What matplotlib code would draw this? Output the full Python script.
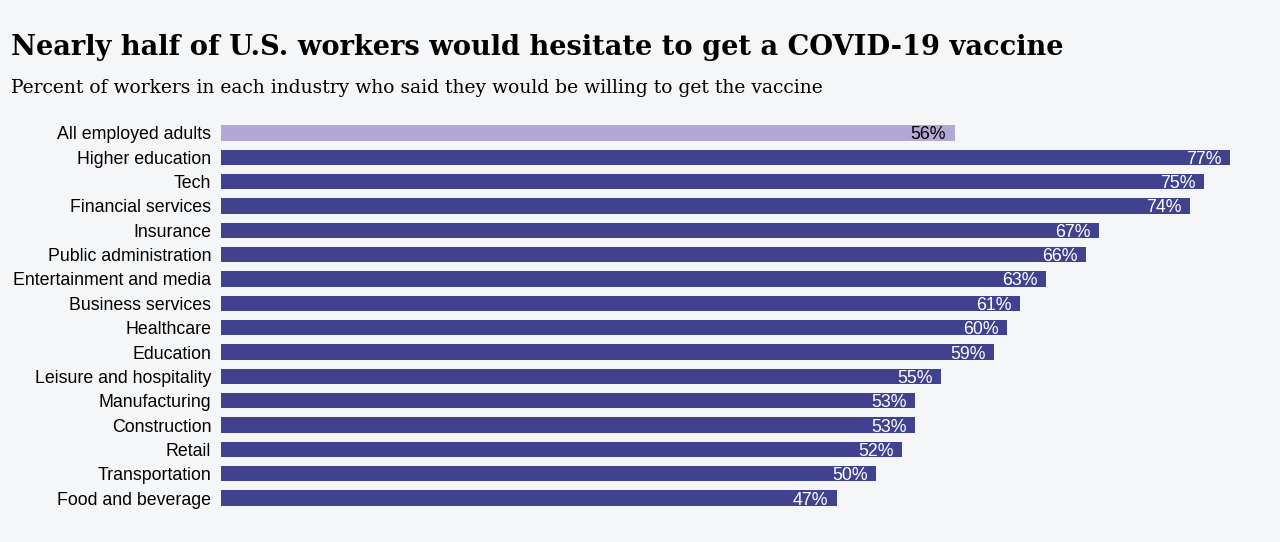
import matplotlib
matplotlib.use("Agg")
import matplotlib.pyplot as plt
import numpy as np

industries = ['All employed adults', 'Higher education', 'Tech', 'Financial services',
              'Insurance', 'Public administration', 'Entertainment and media',
              'Business services', 'Healthcare', 'Education', 'Leisure and hospitality',
              'Manufacturing', 'Construction', 'Retail', 'Transportation', 'Food and beverage']
willing = [56, 77, 75, 74, 67, 66, 63, 61, 60, 59, 55, 53, 53, 52, 50, 47]

bg = '#f5f6f8'
dark = '#40428f'
light = '#b3a7d6'

fig = plt.figure(figsize=(12.8, 5.42), dpi=100, facecolor=bg)
ax = fig.add_axes([221 / 1280, 1 - 510.2 / 542, 1049 / 1280, (510.2 - 120.8) / 542])
ax.set_facecolor(bg)

y = np.arange(len(industries))
colors = [light] + [dark] * (len(industries) - 1)
ax.barh(y, willing, height=0.64, color=colors)

for i, v in enumerate(willing):
    ax.annotate(f'{v}%', xy=(v, i), xytext=(-6, 0), textcoords='offset points',
                ha='right', va='center_baseline', fontsize=12.8, family='Liberation Sans',
                color='black' if i == 0 else 'white')

ax.set_xlim(0, 1049 / 13.1)
ax.set_ylim(len(industries) - 0.5, -0.5)
ax.set_yticks(y)
ax.set_yticklabels(industries, fontsize=12.8, family='Liberation Sans', va='center_baseline')
ax.tick_params(axis='y', length=0, pad=7)
ax.set_xticks([])
for s in ax.spines.values():
    s.set_visible(False)

fig.text(11 / 1280, 1 - 55 / 542, 'Nearly half of U.S. workers would hesitate to get a COVID-19 vaccine',
         fontsize=19.6, fontweight='bold', family='DejaVu Serif', va='baseline')
fig.text(11 / 1280, 1 - 93 / 542, 'Percent of workers in each industry who said they would be willing to get the vaccine',
         fontsize=13.5, family='DejaVu Serif', va='baseline')

fig.savefig('out.png', facecolor=bg)
